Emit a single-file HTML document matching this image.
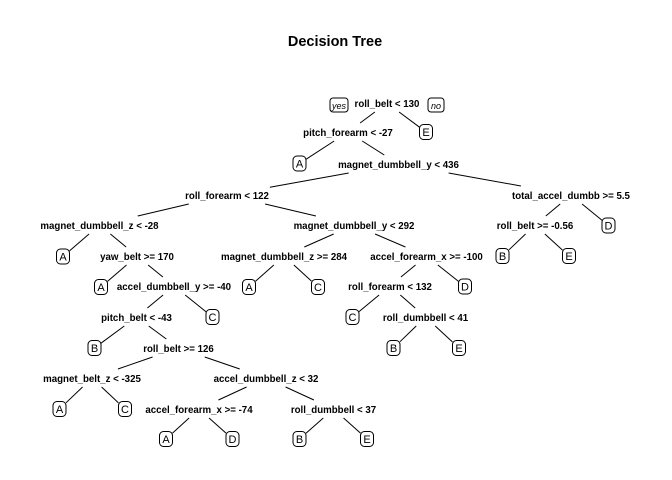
<!DOCTYPE html>
<html><head><meta charset="utf-8"><style>
html,body{margin:0;padding:0;background:#fff;}
svg{display:block;font-family:"Liberation Sans",Arial,sans-serif;}
</style></head><body>
<svg id="s" width="672" height="480" viewBox="0 0 672 480" xmlns="http://www.w3.org/2000/svg">
<rect width="672" height="480" fill="#fff"/>
<text x="335" y="46" text-anchor="middle" font-weight="bold" font-size="14.5">Decision Tree</text>
<g id="lines" stroke="#000" stroke-width="1"></g>
<g id="nodes"></g>
<rect x="330" y="98" width="18" height="14" rx="3" fill="none" stroke="#000"/>
<text x="339" y="109" text-anchor="middle" font-size="9" font-style="italic">yes</text>
<rect x="428" y="98" width="16" height="14" rx="3" fill="none" stroke="#000"/>
<text x="436" y="109" text-anchor="middle" font-size="9" font-style="italic">no</text>
</svg>
<script>
var N={
a:[387,103,"roll_belt < 130"],
b:[348,132,"pitch_forearm < -27"],c:[426,132,"E",1],
d:[299.5,163.5,"A",1],e:[398.5,164,"magnet_dumbbell_y < 436"],
f:[227,195,"roll_forearm < 122"],g:[571,195,"total_accel_dumbb >= 5.5"],
h:[99.5,225,"magnet_dumbbell_z < -28"],i:[354,225,"magnet_dumbbell_y < 292"],
j:[535,225,"roll_belt >= -0.56"],k:[608.5,225.5,"D",1],
l:[63,256.5,"A",1],m:[137,256,"yaw_belt >= 170"],
n:[284,256,"magnet_dumbbell_z >= 284"],o:[426.5,256,"accel_forearm_x >= -100"],
p:[502.5,256,"B",1],q:[569,256,"E",1],
r:[101,287,"A",1],s:[174,286,"accel_dumbbell_y >= -40"],
t:[249,287,"A",1],u:[318,287,"C",1],
v:[390,286,"roll_forearm < 132"],w:[465,286.5,"D",1],
x:[136.5,317,"pitch_belt < -43"],y:[212.5,317,"C",1],
z:[352.5,317,"C",1],A:[425.5,317,"roll_dumbbell < 41"],
B:[94.5,348,"B",1],C:[178.5,348,"roll_belt >= 126"],
D:[393.5,348,"B",1],E:[459,348,"E",1],
F:[92,378,"magnet_belt_z < -325"],G:[266,378,"accel_dumbbell_z < 32"],
H:[59.5,409,"A",1],I:[125,409,"C",1],
J:[199,409,"accel_forearm_x >= -74"],K:[333.5,409,"roll_dumbbell < 37"],
L:[166,439,"A",1],M:[232.5,439,"D",1],O:[299.5,439,"B",1],P:[367,439,"E",1]};
var E=[["a","b"],["a","c"],["b","d"],["b","e"],["e","f"],["e","g"],["f","h"],["f","i"],["g","j"],["g","k"],
["h","l"],["h","m"],["i","n"],["i","o"],["j","p"],["j","q"],["m","r"],["m","s"],["n","t"],["n","u"],["o","v"],["o","w"],
["s","x"],["s","y"],["v","z"],["v","A"],["x","B"],["x","C"],["A","D"],["A","E"],["C","F"],["C","G"],["F","H"],["F","I"],
["G","J"],["G","K"],["J","L"],["J","M"],["K","O"],["K","P"]];
var ns="http://www.w3.org/2000/svg",L=document.getElementById("lines"),G=document.getElementById("nodes");
for(var k in N){var n=N[k];
if(n[3]){var r=document.createElementNS(ns,"rect");r.setAttribute("x",n[0]-6.5);r.setAttribute("y",n[1]-7.5);r.setAttribute("width",13);r.setAttribute("height",15);r.setAttribute("rx",4);r.setAttribute("fill","#fff");r.setAttribute("stroke","#000");G.appendChild(r);n.hw=6.5;n.hh=7.5;}
var t=document.createElementNS(ns,"text");t.setAttribute("x",n[0]);t.setAttribute("y",n[1]+4);t.setAttribute("text-anchor","middle");
t.setAttribute("font-size",n[3]?"11":"9.7");if(!n[3])t.setAttribute("font-weight","bold");t.textContent=n[2];G.appendChild(t);
if(!n[3]){var w=120;try{w=t.getComputedTextLength();}catch(e){}n.hw=w/2+1;n.hh=9;}}
E.forEach(function(e){var p=N[e[0]],c=N[e[1]];var dx=c[0]-p[0],dy=c[1]-p[1];
var t1=Math.min(p.hw/Math.abs(dx||1e-6),p.hh/Math.abs(dy));
var t2=1-Math.min(c.hw/Math.abs(dx||1e-6),c.hh/Math.abs(dy));
var l=document.createElementNS(ns,"line");l.setAttribute("x1",p[0]+dx*t1);l.setAttribute("y1",p[1]+dy*t1);l.setAttribute("x2",p[0]+dx*t2);l.setAttribute("y2",p[1]+dy*t2);L.appendChild(l);});
</script>
</body></html>
